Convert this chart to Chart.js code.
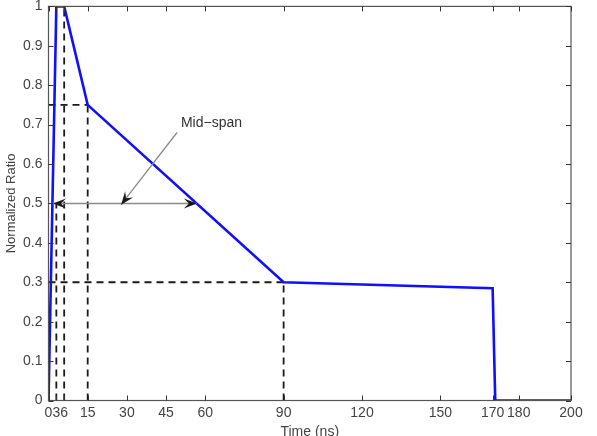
<!DOCTYPE html>
<html>
<head>
<meta charset="utf-8">
<script src="https://cdn.jsdelivr.net/npm/chart.js@4.4.1/dist/chart.umd.min.js"></script>
<style>
  html, body { margin: 0; padding: 0; background: #fff; }
  #wrap { width: 597px; height: 436px; }
</style>
</head>
<body>
<div id="wrap"><canvas id="pulseChart" width="597" height="436"></canvas></div>
<script>
// pulse shape
const time = [0, 3, 6, 15, 90, 170, 171, 200];
const ratio = [0, 1, 1, 0.75, 0.3, 0.285, 0, 0];

// dashed guide lines (x pairs / y pairs)
const guideX = [[3, 3], [6, 6], [15, 15], [0, 15], [90, 90], [0, 90]];
const guideY = [[0, 0.5], [0, 1], [0, 0.75], [0.75, 0.75], [0, 0.3], [0.3, 0.3]];

// double arrow across the mid-span and its label
const spanArrow = { from: [1.7, 0.5], to: [56.8, 0.5] };
const labelArrow = { from: [49.2, 0.68], to: [27.8, 0.497] };
const labelPos = [50.7, 0.704];
const labelText = 'Mid\u2212span';

const xTicks = [0, 3, 6, 15, 30, 45, 60, 90, 120, 150, 170, 180, 200];
const yTicks = [0, 0.1, 0.2, 0.3, 0.4, 0.5, 0.6, 0.7, 0.8, 0.9, 1];

const textColor = '#444';
const fontFamily = '"Liberation Sans", Arial, sans-serif';

const datasets = [{
  data: time.map((t, i) => ({ x: t, y: ratio[i] })),
  borderColor: '#1010ff',
  borderWidth: 2.6,
  pointRadius: 0,
  tension: 0,
  order: 0
}];
guideX.forEach((xs, i) => {
  datasets.push({
    data: xs.map((x, j) => ({ x: x, y: guideY[i][j] })),
    borderColor: '#1a1a1a',
    borderWidth: 1.8,
    borderDash: [7, 5],
    pointRadius: 0,
    order: 1
  });
});

function drawHead(ctx, x0, y0, x1, y1) {
  const ang = Math.atan2(y1 - y0, x1 - x0);
  const len = 13, half = 5, notch = 8;
  ctx.save();
  ctx.translate(x1, y1);
  ctx.rotate(ang);
  ctx.beginPath();
  ctx.moveTo(0, 0);
  ctx.lineTo(-len, -half);
  ctx.lineTo(-notch, 0);
  ctx.lineTo(-len, half);
  ctx.closePath();
  ctx.fillStyle = '#1a1a1a';
  ctx.fill();
  ctx.restore();
}

const extras = {
  id: 'extras',
  afterDatasetsDraw(chart) {
    const ctx = chart.ctx;
    const xs = chart.scales.x, ys = chart.scales.y;
    const a = chart.chartArea;
    const px = v => xs.getPixelForValue(v);
    const py = v => ys.getPixelForValue(v);

    // box
    ctx.save();
    ctx.strokeStyle = '#555';
    ctx.lineWidth = 1.2;
    ctx.strokeRect(a.left, a.top, a.right - a.left, a.bottom - a.top);

    // inward ticks
    ctx.strokeStyle = '#333';
    ctx.lineWidth = 1;
    ctx.beginPath();
    xTicks.forEach(v => {
      const x = Math.round(px(v)) + 0.5;
      ctx.moveTo(x, a.bottom); ctx.lineTo(x, a.bottom - 5);
      ctx.moveTo(x, a.top); ctx.lineTo(x, a.top + 5);
    });
    yTicks.forEach(v => {
      const y = Math.round(py(v)) + 0.5;
      ctx.moveTo(a.left, y); ctx.lineTo(a.left + 5, y);
      ctx.moveTo(a.right, y); ctx.lineTo(a.right - 5, y);
    });
    ctx.stroke();

    // mid-span double arrow
    const sx0 = px(spanArrow.from[0]), sy0 = py(spanArrow.from[1]);
    const sx1 = px(spanArrow.to[0]), sy1 = py(spanArrow.to[1]);
    ctx.strokeStyle = '#8a8a8a';
    ctx.lineWidth = 1.6;
    ctx.beginPath();
    ctx.moveTo(sx0, sy0); ctx.lineTo(sx1, sy1);
    ctx.stroke();
    drawHead(ctx, sx0, sy0, sx1, sy1);
    drawHead(ctx, sx1, sy1, sx0, sy0);

    // label arrow
    const lx0 = px(labelArrow.from[0]), ly0 = py(labelArrow.from[1]);
    const lx1 = px(labelArrow.to[0]), ly1 = py(labelArrow.to[1]);
    ctx.strokeStyle = '#8a8a8a';
    ctx.lineWidth = 1.3;
    ctx.beginPath();
    ctx.moveTo(lx0, ly0); ctx.lineTo(lx1, ly1);
    ctx.stroke();
    drawHead(ctx, lx0, ly0, lx1, ly1);

    ctx.fillStyle = '#333';
    ctx.font = '14px ' + fontFamily;
    ctx.textBaseline = 'middle';
    ctx.textAlign = 'left';
    ctx.fillText(labelText, px(labelPos[0]), py(labelPos[1]));
    ctx.restore();
  }
};

new Chart(document.getElementById('pulseChart'), {
  type: 'line',
  data: { datasets: datasets },
  options: {
    responsive: false,
    animation: false,
    events: [],
    layout: { padding: { top: 6, right: 26, left: 0, bottom: 0 } },
    plugins: { legend: { display: false }, tooltip: { enabled: false } },
    scales: {
      x: {
        type: 'linear',
        min: 0,
        max: 200,
        afterBuildTicks: s => { s.ticks = xTicks.map(v => ({ value: v })); },
        afterFit: s => { s.height = 35.5; },
        grid: { display: false },
        border: { display: false },
        ticks: {
          autoSkip: false,
          maxRotation: 0,
          padding: -4,
          color: textColor,
          font: { family: fontFamily, size: 14 },
          callback: v => String(v)
        },
        title: {
          display: true,
          text: 'Time (ns)',
          color: textColor,
          font: { family: fontFamily, size: 14 },
          padding: { top: 0, bottom: -5 }
        }
      },
      y: {
        type: 'linear',
        min: 0,
        max: 1,
        afterBuildTicks: s => { s.ticks = yTicks.map(v => ({ value: v })); },
        afterFit: s => { s.width = 48.5; },
        grid: { display: false },
        border: { display: false },
        ticks: {
          padding: -2,
          color: textColor,
          font: { family: fontFamily, size: 14 },
          callback: v => String(Math.round(v * 10) / 10)
        },
        title: {
          display: true,
          text: 'Normalized Ratio',
          color: textColor,
          font: { family: fontFamily, size: 13 },
          padding: { top: 4, bottom: 0 }
        }
      }
    }
  },
  plugins: [extras]
});
</script>
</body>
</html>
